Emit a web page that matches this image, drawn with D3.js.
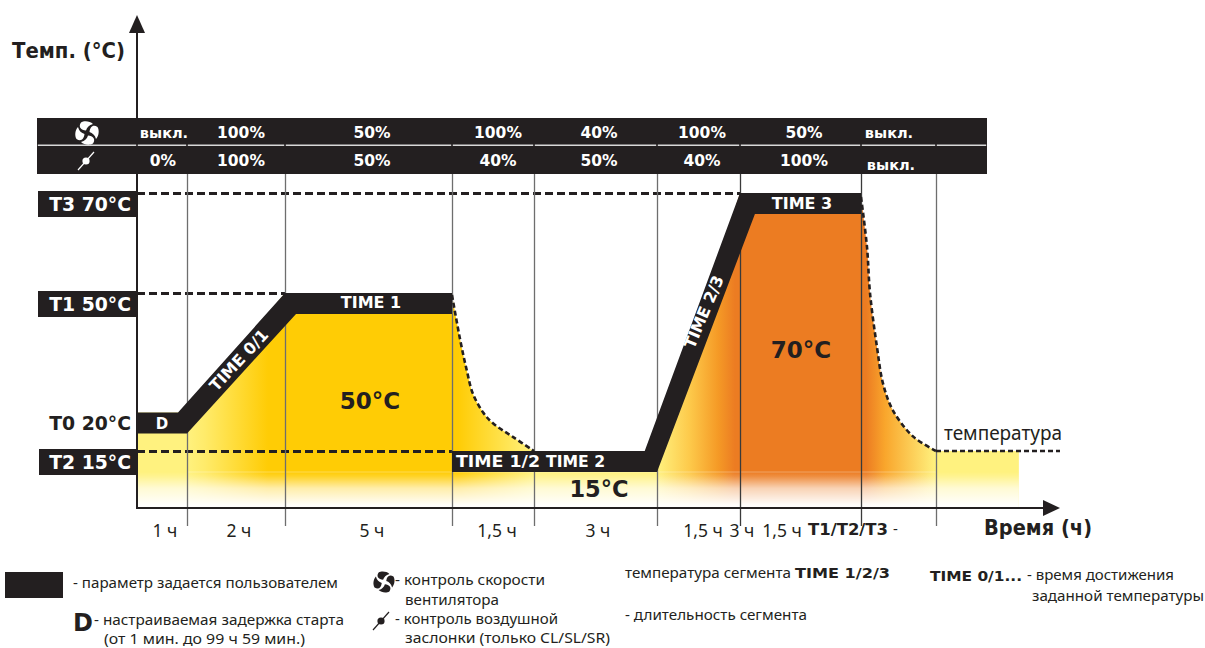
<!DOCTYPE html>
<html><head><meta charset="utf-8">
<script src="https://cdn.jsdelivr.net/npm/d3@7/dist/d3.min.js"></script>
<style>
html,body{margin:0;padding:0;background:#fff;overflow:hidden}
svg{display:block}
text{font-family:"DejaVu Sans",sans-serif;fill:#231F20}
.b{font-weight:bold}
.r{font-family:"Noto Sans",sans-serif}
</style></head><body><svg id="c" width="1205" height="648"></svg>
<script>
// ---- data ----
const segmentHours=[1,2,5,1.5,3,1.5,3,1.5];
const breakHours=[0,1,3,8,9.5,12.5,14,17,18.5];
const tickLabels=["1 ч","2 ч","5 ч","1,5 ч","3 ч","1,5 ч","3 ч","1,5 ч"];
const fanLabels=["выкл.","100%","50%","100%","40%","100%","50%","выкл."];
const damperLabels=["0%","100%","50%","40%","50%","40%","100%","выкл."];
const tempTicks=[{n:"T3 70°C",t:70,box:true},{n:"T1 50°C",t:50,box:true},{n:"T0 20°C",t:20,box:false},{n:"T2 15°C",t:15,box:true}];
const holdAHours=[0,1,3,8], holdATemps=[20,20,50,50];
const holdBHours=[9.5,12.5,14,17], holdBTemps=[15,15,70,70];
const tailHours=[18.5,21.24], tailTemps=[15,15];
const cool1Hours=[8,8.15,8.27,8.38,8.57,8.75,9.12,9.5];
const cool1Temps=[49.5,38.2,30.6,24.8,20,18.6,16.8,15];
const cool2Hours=[17,17.12,17.18,17.32,17.44,17.64,18.04,18.5];
const cool2Temps=[69.2,59.2,50,36.4,27.3,20.5,16.9,15];
const lineEndHours=[18.5,22.6], lineEndTemps=[15,15];
const ribbon1TopH=[0,0.82,3,8], ribbon1BotH=[0,1,3.33,8], ribbon1T=[20,20,50,50];
const ribbon2TopH=[8,12.2,14,17], ribbon2BotH=[8,12.5,14.37,17], ribbon2T=[15,15,70,70];
const refLines=[{t:70,to:14},{t:50,to:3},{t:15,to:8}];

// ---- scales ----
const x=d3.scaleLinear().domain([...breakHours,22.6]).range([137,187,285,452,534,657,740,861,936,1060]);
const y=d3.scaleLinear().domain([0,15,20,50,70]).range([508,451,412.5,293,193]);
const INK="#231F20", RIB=21;
const svg=d3.select("#c");
const defs=svg.append("defs");
const zip=(a,b)=>a.map((v,i)=>[v,b[i]]);

// horizontal colour ramp
const YL="#FFF27F",GO="#FFCC05",OR="#EC7C22";
const ramp=defs.append("linearGradient").attr("id","ramp").attr("gradientUnits","userSpaceOnUse")
 .attr("x1",137).attr("x2",1019).attr("y1",0).attr("y2",0);
[[137,YL],[187,YL],[205,"#FFEB6A"],[268,GO],[458,GO],[534,YL],[657,YL],[690,"#FDC94A"],[718,"#F59A26"],[735,OR],[866,OR],[885,"#F9A62C"],[936,YL],[1019,YL]]
 .forEach(s=>ramp.append("stop").attr("offset",(s[0]-137)/882).attr("stop-color",s[1]));
const fade=defs.append("linearGradient").attr("id","fade").attr("x1",0).attr("x2",0).attr("y1",0).attr("y2",1);
[[0,0],[.12,.14],[.45,.66],[.9,.97],[1,1]].forEach(s=>fade.append("stop").attr("offset",s[0]).attr("stop-color","#fff").attr("stop-opacity",s[1]));

// area under the profile
const areaLin=d3.area().x(d=>x(d[0])).y1(d=>y(d[1])).y0(y(0));
const smooth=d3.curveCatmullRom.alpha(0.5);
const areaCurve=d3.area().x(d=>x(d[0])).y1(d=>y(d[1])).y0(y(0)).curve(smooth);
[[areaLin,holdAHours,holdATemps],[areaCurve,cool1Hours,cool1Temps],[areaLin,holdBHours,holdBTemps],[areaCurve,cool2Hours,cool2Temps],[areaLin,tailHours,tailTemps]]
 .forEach(([g,h,t])=>svg.append("path").attr("d",g(zip(h,t))).attr("fill","url(#ramp)"));
svg.append("rect").attr("x",x(0)).attr("width",x(21.24)-x(0)).attr("y",472).attr("height",36).attr("fill","url(#fade)");
svg.append("line").attr("x1",x(1)).attr("x2",x(18.5)).attr("y1",472).attr("y2",472).attr("stroke","#fff").attr("stroke-opacity",.3);

// reference dashes
svg.selectAll(".ref").data(refLines).join("line").attr("x1",x(0)).attr("x2",d=>x(d.to))
 .attr("y1",d=>y(d.t)+.5).attr("y2",d=>y(d.t)+.5).attr("stroke",INK).attr("stroke-width",3).attr("stroke-dasharray","8,4");

// bottom axis: vertical segment lines
const ax=svg.append("g").attr("transform",`translate(0,${y(0)})`)
 .call(d3.axisBottom(x).tickValues(breakHours.slice(1)).tickSize(18).tickFormat(""));
ax.select(".domain").remove();
ax.selectAll(".tick line").attr("stroke",(d)=>d===14||d===17?"#3a3a3a":"#6e6e6e").attr("stroke-width",1.3).attr("y1",-336);

// axes lines
svg.append("line").attr("x1",137).attr("x2",137).attr("y1",y(0)+1).attr("y2",30).attr("stroke",INK).attr("stroke-width",2);
svg.append("line").attr("x1",136).attr("x2",1046).attr("y1",y(0)).attr("y2",y(0)).attr("stroke",INK).attr("stroke-width",2);
svg.append("path").attr("d","M137,15L145,33L129,33Z").attr("fill",INK);
svg.append("path").attr("d","M1060,508L1043,500L1043,516Z").attr("fill",INK);

// ribbons
const ln=d3.line().x(d=>x(d[0])).y(d=>d[1]);
function ribbon(top,bot,t){
 const a=top.map((h,i)=>[h,y(t[i])]);
 const b=bot.map((h,i)=>[h,y(t[i])+RIB]).reverse();
 svg.append("path").attr("d",ln(a.concat(b))+"Z").attr("fill",INK);
}
ribbon(ribbon1TopH,ribbon1BotH,ribbon1T);
ribbon(ribbon2TopH,ribbon2BotH,ribbon2T);

// cooling curves
const cl=d3.line().x(d=>x(d[0])).y(d=>y(d[1])).curve(smooth);
[[cool1Hours,cool1Temps],[cool2Hours,cool2Temps]].forEach(([h,t])=>{
 svg.append("path").attr("d",cl(zip(h,t))).attr("fill","none").attr("stroke",INK)
  .attr("stroke-width",2.6).attr("stroke-dasharray","5,3");
});
svg.append("path").attr("d",d3.line().x(d=>x(d[0])).y(d=>y(d[1]))(zip(lineEndHours,lineEndTemps)))
 .attr("stroke",INK).attr("stroke-width",2.6).attr("stroke-dasharray","5,3").attr("fill","none");

// top rows
svg.append("rect").attr("x",37).attr("y",118).attr("width",950).attr("height",56).attr("fill",INK);
const seps=[37,137,...breakHours.slice(1).map(h=>x(h)),987];
d3.pairs(seps).forEach(([a,b])=>svg.append("line").attr("x1",a+.8).attr("x2",b-.8).attr("y1",145.3).attr("y2",145.3).attr("stroke","#d8d8d8").attr("stroke-width",1.4));

function T(txt,px,py,size,o={}){
 const s=svg.append("text").attr("x",px).attr("y",py).attr("font-size",size).text(txt);
 if(o.bold)s.attr("class","b");
 if(o.reg)s.attr("class","r");
 if(o.anchor)s.attr("text-anchor",o.anchor);
 if(o.fill)s.style("fill",o.fill);
 if(o.len)s.attr("textLength",o.len).attr("lengthAdjust","spacingAndGlyphs");
 if(o.rot!=null)s.attr("transform",`rotate(${o.rot},${px},${py})`);
 return s;
}
const W="#fff";
const rowX=[164,241,372,498,599,702,804,889];
fanLabels.forEach((l,i)=>T(l,rowX[i],138,i==0||i==7?14.5:15.5,{bold:1,anchor:"middle",fill:W}));
const row2X=[163,241,372,498,599,702,804,891];
damperLabels.forEach((l,i)=>T(l,row2X[i],i==7?170:166,i==7?14.5:15.5,{bold:1,anchor:"middle",fill:W}));

// icons
function fan(cx,cy,color,s){
 const g=svg.append("g").attr("transform",`translate(${cx},${cy}) scale(${s})`);
 [0,90,180,270].forEach(a=>g.append("path").attr("transform",`rotate(${a})`)
  .attr("d","M-1,-2.5C-6,-3 -9,-6 -6,-10.5C-3,-12.5 3,-12 6,-9C2,-8 0,-5.5 -1,-2.5Z").attr("fill",color));
}
function damper(cx,cy,color){
 svg.append("line").attr("x1",cx-8).attr("y1",cy+9).attr("x2",cx+8).attr("y2",cy-9).attr("stroke",color).attr("stroke-width",1.2);
 svg.append("circle").attr("cx",cx).attr("cy",cy).attr("r",3.6).attr("fill",color);
}
fan(87,133,W,1); damper(86,161,W);
fan(384,582,INK,.9); damper(381,621,INK);

// temperature labels
tempTicks.filter(d=>d.box).forEach(d=>{
 svg.append("rect").attr("x",d.t===15?39:38).attr("y",y(d.t)-2).attr("width",d.t===15?98:99).attr("height",26).attr("fill",INK);
});
tempTicks.forEach(d=>T(d.n,131,y(d.t)+17.5,18.8,{bold:1,anchor:"end",fill:d.box?W:INK}));

// titles
T("Темп. (°С)",12,58,21.5,{bold:1,len:113});
T("Время (ч)",984,535,21.5,{bold:1,len:108});
T("температура",944,440,20,{reg:1,len:118});

// in-plot labels
T("50°C",370,409,23,{bold:1,anchor:"middle"});
T("70°C",801,358,23,{bold:1,anchor:"middle"});
T("15°C",599,497,22.5,{bold:1,anchor:"middle"});
T("D",162,429,15,{bold:1,anchor:"middle",fill:W});
T("TIME 1",371,308,16,{bold:1,anchor:"middle",fill:W});
T("TIME 3",802,209,16,{bold:1,anchor:"middle",fill:W});
T("TIME 1/2",456,467,16.5,{bold:1,fill:W,len:84});
T("TIME 2",546,467,16,{bold:1,fill:W,len:59});
T("TIME 0/1",243,364,16,{bold:1,anchor:"middle",fill:W,rot:-47});
T("TIME 2/3",709,314,16,{bold:1,anchor:"middle",fill:W,rot:-67});

// tick labels
const tickX=[165,239,372,497,598,703,742,782];
tickLabels.forEach((l,i)=>T(l,tickX[i],537,17.5,{reg:1,anchor:"middle"}));
T("T1/T2/T3",808,535,15,{bold:1,len:80});
T("-",893,534,15,{reg:1});

// legend
svg.append("rect").attr("x",5).attr("y",572).attr("width",58).attr("height",26).attr("fill",INK);
T("- параметр задается пользователем",73,588,15,{reg:1,len:265});
T("D",73,631,24,{bold:1});
T("- настраиваемая задержка старта",94,625,14,{reg:1,len:250});
T("(от 1 мин. до 99 ч 59 мин.)",104,644,14,{reg:1,len:201});
T("- контроль скорости",395,585,15,{reg:1,len:150});
T("вентилятора",405,605,15,{reg:1,len:94});
T("- контроль воздушной",395,624,15,{reg:1,len:163});
T("заслонки (только CL/SL/SR)",405,643,15,{reg:1,len:205});
T("температура сегмента",625,578,15,{reg:1,len:166});
T("TIME 1/2/3",795,578,14,{bold:1,len:95});
T("- длительность сегмента",625,620,15,{reg:1,len:182});
T("TIME 0/1...",930,581,14,{bold:1,len:92});
T("- время достижения",1027,580,15,{reg:1,len:147});
T("заданной температуры",1032,601,15,{reg:1,len:172});
</script></body></html>
